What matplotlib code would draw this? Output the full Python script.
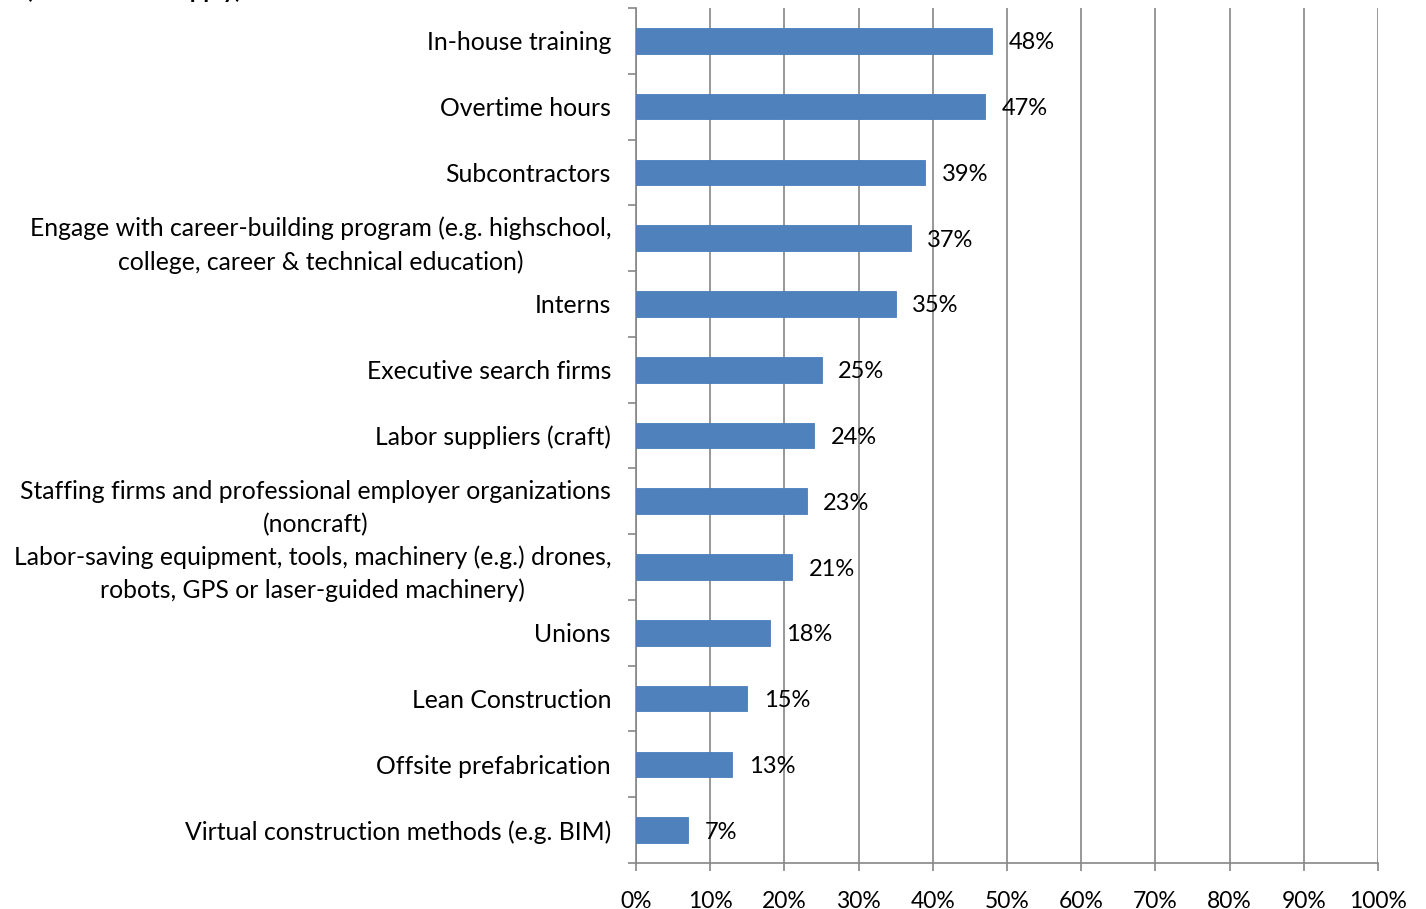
import matplotlib
matplotlib.use("Agg")
import matplotlib.pyplot as plt
import numpy as np

categories = [
    "In-house training",
    "Overtime hours",
    "Subcontractors",
    "Engage with career-building program (e.g. highschool,\ncollege, career & technical education)",
    "Interns",
    "Executive search firms",
    "Labor suppliers (craft)",
    "Staffing firms and professional employer organizations\n(noncraft)",
    "Labor-saving equipment, tools, machinery (e.g.) drones,\nrobots, GPS or laser-guided machinery)",
    "Unions",
    "Lean Construction",
    "Offsite prefabrication",
    "Virtual construction methods (e.g. BIM)",
]
values = [48, 47, 39, 37, 35, 25, 24, 23, 21, 18, 15, 13, 7]
x_ticks = list(range(0, 101, 10))

plt.rcParams['font.family'] = ['Lato', 'DejaVu Sans']

fig = plt.figure(figsize=(14.26, 9.09), dpi=100)
ax = fig.add_axes([636 / 1426, 1 - 863 / 909, (1378 - 636) / 1426, (863 - 8) / 909])

y = np.arange(len(categories))
ax.barh(y, values, height=0.39, color='#4F81BD', edgecolor='#4A7EBB', linewidth=0.6, zorder=3)

for yi, v in zip(y, values):
    ax.annotate(f"{v}%", (v, yi), xytext=(12, 0), textcoords='offset points',
                va='center_baseline', ha='left', fontsize=17, color='black', zorder=4)

ax.set_xlim(0, 100)
ax.set_ylim(len(categories) - 0.5, -0.5)

ax.set_xticks(x_ticks)
ax.set_xticklabels([f"{t}%" for t in x_ticks], fontsize=16.5)
ax.xaxis.grid(True, color='#868686', linewidth=1.2, zorder=0)

ax.set_yticks(y)
ax.set_yticklabels(categories, fontsize=17.8, multialignment='center', linespacing=1.5)
ax.set_yticks(np.arange(-0.5, len(categories), 1), minor=True)
ax.tick_params(axis='y', which='major', length=0, pad=18)
ax.tick_params(axis='y', which='minor', length=6, color='#868686', width=1.2)
ax.tick_params(axis='x', length=6, color='#868686', width=1.2, pad=14)

for side in ['top', 'right']:
    ax.spines[side].set_visible(False)
for side in ['left', 'bottom']:
    ax.spines[side].set_color('#868686')
    ax.spines[side].set_linewidth(1.2)

# title, cut off at the top edge as in the source image
fig.text(242 / 1426, 1 + 2 / 909, "(check all that apply)",
         ha='right', va='baseline', fontsize=17, fontweight='bold')

fig.savefig("out.png", dpi=100)
